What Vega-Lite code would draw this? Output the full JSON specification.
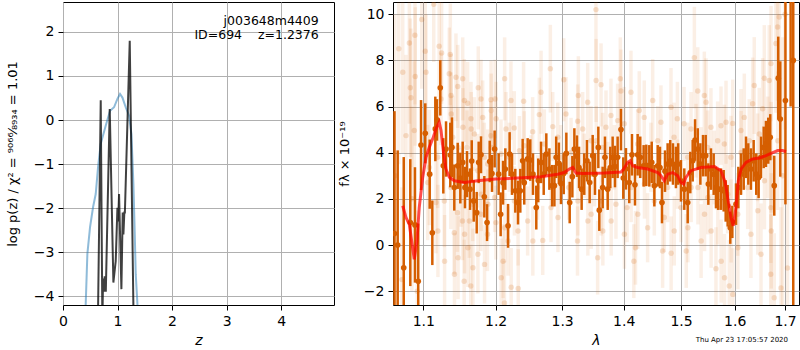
{
"$schema": "https://vega.github.io/schema/vega-lite/v6.json",
"padding": {"left": 5, "top": 1, "right": 0, "bottom": 0},
"bounds": "flush",
"spacing": 59,
"background": "white",
"config": {
 "font": "DejaVu Sans",
 "view": {"stroke": "black", "strokeWidth": 1},
 "axis": {"domain": false, "grid": true, "gridColor": "#b0b0b0", "gridWidth": 1, "tickColor": "black", "tickSize": 5, "tickWidth": 1, "labelFont": "DejaVu Sans", "labelFontSize": 14, "labelColor": "black", "labelPadding": 4, "labelFlush": false, "labelOverlap": false, "titleFont": "DejaVu Sans", "titleFontSize": 14, "titleFontWeight": "normal", "titleColor": "black"}
},
"datasets": {
 "blue": [{"z":0.405,"v":-4.6},{"z":0.417,"v":-4.16},{"z":0.447,"v":-3.04},{"z":0.496,"v":-2.43},{"z":0.551,"v":-1.98},{"z":0.6,"v":-1.68},{"z":0.643,"v":-1.07},{"z":0.692,"v":-0.54},{"z":0.783,"v":-0.13},{"z":0.863,"v":0.21},{"z":0.936,"v":0.29},{"z":0.998,"v":0.48},{"z":1.046,"v":0.59},{"z":1.09,"v":0.51},{"z":1.15,"v":0.29},{"z":1.211,"v":0.1},{"z":1.255,"v":-0.32},{"z":1.291,"v":-1.45},{"z":1.316,"v":-2.59},{"z":1.334,"v":-3.5},{"z":1.365,"v":-4.18},{"z":1.375,"v":-4.6}],
 "black": [{"z":0.64,"v":-4.6},{"z":0.692,"v":0.45},{"z":0.722,"v":-4.6},{"z":0.735,"v":-3.6},{"z":0.75,"v":-3.9},{"z":0.765,"v":-3.55},{"z":0.785,"v":-3.9},{"z":0.857,"v":0.25},{"z":0.924,"v":-3.69},{"z":0.945,"v":-3.45},{"z":0.967,"v":-3.2},{"z":0.998,"v":-1.99},{"z":1.012,"v":-2.3},{"z":1.028,"v":-1.68},{"z":1.071,"v":-3.84},{"z":1.095,"v":-2.1},{"z":1.108,"v":-2.6},{"z":1.125,"v":-2.1},{"z":1.135,"v":-2.1},{"z":1.224,"v":1.8},{"z":1.295,"v":-4.6}],
 "ann": [{"z":4.69,"v":2.25,"t":"j003648m4409"},{"z":4.69,"v":1.93,"t":"ID=694\u00a0\u00a0\u00a0\u00a0z=1.2376"}],
 "model": [{"l":1.0731,"f":1.7},{"l":1.0773,"f":1.19},{"l":1.0816,"f":0.9},{"l":1.0847,"f":0.17},{"l":1.0881,"f":-0.62},{"l":1.0916,"f":0.17},{"l":1.0946,"f":1.62},{"l":1.0992,"f":2.93},{"l":1.1036,"f":3.8},{"l":1.1079,"f":4.23},{"l":1.1125,"f":4.6},{"l":1.1169,"f":5.03},{"l":1.1213,"f":5.32},{"l":1.1237,"f":4.96},{"l":1.1273,"f":3.94},{"l":1.1304,"f":3.29},{"l":1.135,"f":2.93},{"l":1.1418,"f":2.78},{"l":1.1556,"f":2.71},{"l":1.1744,"f":2.78},{"l":1.2,"f":2.86},{"l":1.2323,"f":2.9},{"l":1.2674,"f":2.96},{"l":1.2931,"f":3.07},{"l":1.3034,"f":3.14},{"l":1.3113,"f":3.29},{"l":1.3167,"f":3.36},{"l":1.3219,"f":3.12},{"l":1.3326,"f":3.1},{"l":1.3677,"f":3.12},{"l":1.3954,"f":3.16},{"l":1.4,"f":3.29},{"l":1.4067,"f":3.58},{"l":1.4111,"f":3.65},{"l":1.4152,"f":3.43},{"l":1.4237,"f":3.36},{"l":1.441,"f":3.29},{"l":1.4585,"f":3.14},{"l":1.4642,"f":3.0},{"l":1.47,"f":2.78},{"l":1.476,"f":3.07},{"l":1.485,"f":3.14},{"l":1.494,"f":3.0},{"l":1.4999,"f":2.71},{"l":1.5047,"f":2.64},{"l":1.5088,"f":2.93},{"l":1.5181,"f":3.22},{"l":1.5364,"f":3.36},{"l":1.5613,"f":3.4},{"l":1.5739,"f":3.22},{"l":1.582,"f":2.71},{"l":1.5877,"f":1.91},{"l":1.5929,"f":1.19},{"l":1.5973,"f":0.83},{"l":1.6025,"f":1.62},{"l":1.607,"f":2.78},{"l":1.6122,"f":3.29},{"l":1.622,"f":3.58},{"l":1.635,"f":3.73},{"l":1.6481,"f":3.77},{"l":1.6614,"f":3.87},{"l":1.6715,"f":3.97},{"l":1.685,"f":4.09},{"l":1.6951,"f":4.09},{"l":1.7019,"f":4.04}],
 "dark": [{"l":1.0625,"f":0.5,"e":5.3},{"l":1.0666,"f":0.0,"e":4.1},{"l":1.0744,"f":-0.99,"e":4.8},{"l":1.0829,"f":0.97,"e":2.75},{"l":1.089,"f":0.87,"e":2.5},{"l":1.0933,"f":-1.57,"e":2.5},{"l":1.097,"f":4.33,"e":1.95},{"l":1.1026,"f":4.84,"e":1.3},{"l":1.1085,"f":3.07,"e":1.5},{"l":1.112,"f":0.53,"e":1.4},{"l":1.116,"f":5.03,"e":1.4},{"l":1.1183,"f":5.42,"e":0.9},{"l":1.1227,"f":6.81,"e":1.2},{"l":1.1268,"f":3.43,"e":1.2},{"l":1.1305,"f":4.16,"e":1.2},{"l":1.1363,"f":3.9,"e":1.4},{"l":1.1386,"f":4.23,"e":1.3},{"l":1.1418,"f":2.49,"e":1.0},{"l":1.1465,"f":3.43,"e":1.0},{"l":1.1501,"f":2.9,"e":1.1},{"l":1.1534,"f":3.58,"e":0.9},{"l":1.1566,"f":2.49,"e":0.9},{"l":1.1594,"f":3.07,"e":1.0},{"l":1.1636,"f":2.42,"e":0.9},{"l":1.166,"f":3.64,"e":0.9},{"l":1.1688,"f":1.91,"e":0.9},{"l":1.173,"f":1.4,"e":0.9},{"l":1.1758,"f":3.58,"e":0.9},{"l":1.1791,"f":3.91,"e":0.8},{"l":1.1838,"f":2.09,"e":0.9},{"l":1.1877,"f":0.97,"e":0.8},{"l":1.1915,"f":3.62,"e":0.9},{"l":1.1948,"f":3.1,"e":0.8},{"l":1.1986,"f":4.16,"e":0.8},
{"l":1.2044,"f":3.07,"e":0.9},{"l":1.2073,"f":1.33,"e":0.95},{"l":1.2108,"f":2.7,"e":0.95},{"l":1.2141,"f":3.29,"e":0.9},{"l":1.2181,"f":0.83,"e":0.95},{"l":1.2204,"f":3.94,"e":0.95},{"l":1.2239,"f":3.07,"e":0.9},{"l":1.2288,"f":2.35,"e":0.95},{"l":1.2328,"f":1.84,"e":0.95},{"l":1.2362,"f":2.35,"e":0.95},{"l":1.2397,"f":3.65,"e":0.95},{"l":1.2421,"f":2.7,"e":0.95},{"l":1.2472,"f":3.73,"e":0.9},{"l":1.2511,"f":3.68,"e":0.9},{"l":1.2552,"f":3.07,"e":0.9},{"l":1.2602,"f":1.62,"e":0.95},{"l":1.2632,"f":2.8,"e":0.95},{"l":1.2674,"f":3.58,"e":0.9},{"l":1.2715,"f":3.07,"e":0.9},{"l":1.2755,"f":3.94,"e":0.9},{"l":1.2802,"f":3.29,"e":0.9},{"l":1.2844,"f":2.57,"e":0.9},{"l":1.288,"f":2.57,"e":0.9},{"l":1.2907,"f":3.8,"e":0.9},{"l":1.2949,"f":3.54,"e":0.9},{"l":1.2982,"f":2.67,"e":0.9},{"l":1.3025,"f":3.1,"e":0.9},{"l":1.3066,"f":3.97,"e":0.9},{"l":1.3119,"f":1.84,"e":0.9},{"l":1.3161,"f":2.96,"e":0.9},{"l":1.3193,"f":4.16,"e":0.9},{"l":1.3235,"f":3.85,"e":0.9},{"l":1.3267,"f":3.36,"e":0.9},{"l":1.3309,"f":2.42,"e":0.9},{"l":1.3351,"f":3.07,"e":0.9},{"l":1.3395,"f":3.65,"e":0.9},{"l":1.3438,"f":2.71,"e":0.9},{"l":1.3487,"f":3.87,"e":0.9},{"l":1.3524,"f":3.07,"e":0.9},{"l":1.3579,"f":4.23,"e":0.9},{"l":1.3595,"f":1.51,"e":0.9},{"l":1.365,"f":2.49,"e":0.9},{"l":1.3688,"f":3.8,"e":0.9},{"l":1.3733,"f":2.42,"e":0.9},{"l":1.3776,"f":3.36,"e":0.9},{"l":1.3815,"f":3.8,"e":0.9},{"l":1.3854,"f":3.4,"e":0.9},{"l":1.3898,"f":3.8,"e":0.9},{"l":1.3954,"f":5.0,"e":0.9},{"l":1.3993,"f":2.9,"e":0.9},{"l":1.4038,"f":3.3,"e":0.9},{"l":1.4094,"f":2.71,"e":0.9},{"l":1.414,"f":3.91,"e":0.9},{"l":1.4191,"f":2.61,"e":0.9},{"l":1.4237,"f":3.91,"e":0.9},{"l":1.4282,"f":3.8,"e":0.9},{"l":1.434,"f":3.43,"e":0.9},{"l":1.4386,"f":3.45,"e":0.9},{"l":1.4438,"f":3.43,"e":0.9},{"l":1.448,"f":3.58,"e":0.9},{"l":1.4526,"f":2.57,"e":0.9},{"l":1.4585,"f":3.43,"e":0.9},{"l":1.4625,"f":3.36,"e":0.9},{"l":1.466,"f":1.84,"e":0.9},{"l":1.4713,"f":3.2,"e":0.9},{"l":1.476,"f":3.51,"e":0.9},{"l":1.4806,"f":3.65,"e":0.9},{"l":1.4855,"f":3.51,"e":0.9},{"l":1.4908,"f":3.36,"e":0.9},{"l":1.4949,"f":3.51,"e":0.9},{"l":1.4999,"f":2.78,"e":0.9},{"l":1.5059,"f":2.42,"e":0.9},{"l":1.5121,"f":1.84,"e":0.9},{"l":1.5168,"f":3.14,"e":0.9},{"l":1.5212,"f":3.65,"e":0.9},{"l":1.5255,"f":4.55,"e":0.9},{"l":1.5305,"f":4.16,"e":0.9},{"l":1.5353,"f":3.51,"e":0.9},{"l":1.5402,"f":3.87,"e":0.9},{"l":1.5452,"f":3.87,"e":0.9},{"l":1.5501,"f":2.64,"e":0.9},{"l":1.555,"f":3.29,"e":0.9},{"l":1.5601,"f":3.07,"e":0.9},{"l":1.5644,"f":2.49,"e":0.9},{"l":1.5687,"f":2.42,"e":0.9},{"l":1.5739,"f":2.42,"e":0.9},{"l":1.579,"f":2.35,"e":0.9},{"l":1.5828,"f":1.91,"e":0.9},{"l":1.5866,"f":1.7,"e":0.9},{"l":1.5916,"f":0.75,"e":0.7},{"l":1.5955,"f":1.0,"e":0.7},{"l":1.6026,"f":1.77,"e":0.9},{"l":1.6071,"f":2.49,"e":0.9},{"l":1.6122,"f":3.07,"e":0.9},{"l":1.6175,"f":3.29,"e":0.9},{"l":1.622,"f":3.8,"e":0.9},{"l":1.6265,"f":3.51,"e":0.9},{"l":1.6317,"f":3.29,"e":0.9},{"l":1.637,"f":3.65,"e":0.9},{"l":1.6421,"f":3.07,"e":0.9},{"l":1.6468,"f":2.93,"e":0.9},{"l":1.6515,"f":3.8,"e":0.9},{"l":1.6569,"f":4.23,"e":0.9},{"l":1.6614,"f":4.38,"e":1.0},{"l":1.666,"f":4.52,"e":1.0},{"l":1.67,"f":4.67,"e":1.0},{"l":1.6781,"f":2.57,"e":1.3},{"l":1.6862,"f":7.23,"e":1.8},{"l":1.6903,"f":5.46,"e":2.5},{"l":1.7008,"f":6.26,"e":4.5},{"l":1.7115,"f":11.5,"e":5.5},{"l":1.7169,"f":8.0,"e":12}],
 "faint": [{"l":1.063,"f":3.0,"e":7},{"l":1.068,"f":8.5,"e":5},{"l":1.072,"f":-1.5,"e":4},{"l":1.0731,"f":7.49,"e":3.5},{"l":1.0773,"f":4.74,"e":3.5},{"l":1.0817,"f":8.75,"e":3.5},{"l":1.0829,"f":6.81,"e":3},{"l":1.0838,"f":6.38,"e":3},{"l":1.085,"f":2.0,"e":4},{"l":1.0882,"f":4.96,"e":3},{"l":1.089,"f":9.09,"e":3},{"l":1.0894,"f":7.3,"e":3},{"l":1.092,"f":-2.0,"e":3.5},{"l":1.0979,"f":9.77,"e":3},{"l":1.1026,"f":8.4,"e":2.5},{"l":1.1036,"f":7.49,"e":2.5},{"l":1.1058,"f":2.71,"e":2.5},{"l":1.108,"f":3.36,"e":2.5},{"l":1.1139,"f":10.43,"e":2.5},{"l":1.1168,"f":1.84,"e":2.2},{"l":1.1192,"f":3.8,"e":2.2},{"l":1.1195,"f":0.61,"e":2},{"l":1.1212,"f":8.61,"e":2.2},{"l":1.1237,"f":6.33,"e":2},{"l":1.1245,"f":8.32,"e":2.2},{"l":1.1282,"f":1.91,"e":2},{"l":1.1285,"f":-0.7,"e":2},{"l":1.1349,"f":7.42,"e":2},{"l":1.1363,"f":8.26,"e":2.2},{"l":1.1373,"f":6.48,"e":1.8},{"l":1.1376,"f":5.68,"e":1.8},{"l":1.137,"f":2.49,"e":1.8},{"l":1.1396,"f":4.67,"e":1.8},{"l":1.1418,"f":0.53,"e":1.8},{"l":1.142,"f":-1.27,"e":1.8},{"l":1.1441,"f":7.27,"e":1.9},{"l":1.1465,"f":6.87,"e":1.8},{"l":1.1468,"f":4.23,"e":1.7},{"l":1.1462,"f":1.4,"e":1.7},{"l":1.147,"f":-0.55,"e":1.8},{"l":1.151,"f":2.49,"e":1.7},{"l":1.1534,"f":7.2,"e":1.8},{"l":1.1537,"f":5.1,"e":1.7},{"l":1.1531,"f":1.04,"e":1.7},{"l":1.1557,"f":6.26,"e":1.8},{"l":1.156,"f":0.47,"e":1.7},{"l":1.1554,"f":-1.57,"e":1.8},{"l":1.1594,"f":4.23,"e":1.6},{"l":1.1603,"f":6.14,"e":1.8},{"l":1.1606,"f":-0.12,"e":1.7},{"l":1.1627,"f":1.04,"e":1.6},{"l":1.165,"f":5.47,"e":1.6},{"l":1.1653,"f":5.03,"e":1.6},{"l":1.1647,"f":-1.78,"e":1.8},{"l":1.1674,"f":1.77,"e":1.6},{"l":1.1677,"f":-0.99,"e":1.7},{"l":1.1697,"f":4.81,"e":1.6},{"l":1.1744,"f":3.22,"e":1.6},{"l":1.1747,"f":-0.4,"e":1.7},{"l":1.1752,"f":6.81,"e":1.8},{"l":1.1791,"f":6.33,"e":1.7},{"l":1.1794,"f":2.2,"e":1.6},{"l":1.1788,"f":1.33,"e":1.6},{"l":1.1815,"f":5.53,"e":1.6},{"l":1.1838,"f":3.8,"e":1.5},{"l":1.1841,"f":-0.84,"e":1.7},{"l":1.1886,"f":3.51,"e":1.5},{"l":1.1889,"f":1.77,"e":1.5},{"l":1.1883,"f":0.47,"e":1.6},{"l":1.1934,"f":6.29,"e":1.7},{"l":1.1937,"f":5.83,"e":1.6},{"l":1.1931,"f":4.74,"e":1.5},{"l":1.194,"f":4.23,"e":1.5},
{"l":1.1986,"f":2.06,"e":1.5},{"l":1.1992,"f":6.33,"e":1.7},{"l":1.2007,"f":5.47,"e":1.6},{"l":1.2004,"f":0.97,"e":1.6},{"l":1.2078,"f":3.94,"e":1.5},{"l":1.2081,"f":-1.42,"e":1.7},{"l":1.2108,"f":-0.7,"e":1.6},{"l":1.2131,"f":7.2,"e":1.8},{"l":1.2134,"f":0.75,"e":1.5},{"l":1.2128,"f":-2.51,"e":1.8},{"l":1.2151,"f":5.03,"e":1.6},{"l":1.2181,"f":0.17,"e":1.5},{"l":1.22,"f":3.8,"e":1.5},{"l":1.2224,"f":6.26,"e":1.7},{"l":1.2227,"f":-1.83,"e":1.7},{"l":1.2272,"f":5.07,"e":1.6},{"l":1.2275,"f":1.91,"e":1.5},{"l":1.2328,"f":0.61,"e":1.5},{"l":1.2331,"f":-1.88,"e":1.7},{"l":1.2349,"f":4.09,"e":1.5},{"l":1.2411,"f":6.23,"e":1.7},{"l":1.2421,"f":4.3,"e":1.5},{"l":1.2472,"f":1.04,"e":1.5},{"l":1.2522,"f":3.36,"e":1.4},{"l":1.2547,"f":4.91,"e":1.5},{"l":1.255,"f":0.17,"e":1.5},{"l":1.2623,"f":2.49,"e":1.4},{"l":1.2648,"f":5.65,"e":1.6},{"l":1.2674,"f":6.62,"e":1.8},{"l":1.27,"f":0.2,"e":1.5},{"l":1.2724,"f":4.38,"e":1.5},{"l":1.2817,"f":7.64,"e":1.9},{"l":1.2827,"f":1.62,"e":1.5},{"l":1.2854,"f":5.13,"e":1.5},{"l":1.2932,"f":4.67,"e":1.5},{"l":1.2935,"f":1.19,"e":1.5},{"l":1.2982,"f":3.8,"e":1.4},{"l":1.3025,"f":7.16,"e":1.8},{"l":1.3061,"f":5.68,"e":1.6},{"l":1.3103,"f":2.49,"e":1.4},{"l":1.314,"f":4.01,"e":1.5},{"l":1.3246,"f":5.36,"e":1.6},{"l":1.3249,"f":1.91,"e":1.5},{"l":1.3243,"f":0.17,"e":1.5},{"l":1.3256,"f":6.48,"e":1.7},{"l":1.3326,"f":5.03,"e":1.6},{"l":1.3351,"f":3.43,"e":1.4},{"l":1.3406,"f":6.19,"e":1.7},{"l":1.3409,"f":1.04,"e":1.5},{"l":1.346,"f":4.52,"e":1.5},{"l":1.3463,"f":1.33,"e":1.5},
{"l":1.3516,"f":3.07,"e":1.4},{"l":1.354,"f":10.2,"e":2.2},{"l":1.3543,"f":7.13,"e":1.8},{"l":1.3546,"f":4.52,"e":1.5},{"l":1.3568,"f":-0.55,"e":1.6},{"l":1.3623,"f":6.94,"e":1.8},{"l":1.3626,"f":1.91,"e":1.5},{"l":1.365,"f":4.23,"e":1.5},{"l":1.3653,"f":0.61,"e":1.5},{"l":1.3705,"f":5.1,"e":1.6},{"l":1.3733,"f":3.07,"e":1.4},{"l":1.3787,"f":5.61,"e":1.6},{"l":1.379,"f":1.04,"e":1.5},{"l":1.3843,"f":3.8,"e":1.4},{"l":1.387,"f":1.77,"e":1.5},{"l":1.3898,"f":5.39,"e":1.6},{"l":1.3943,"f":7.2,"e":1.8},{"l":1.3954,"f":6.67,"e":1.8},{"l":1.4009,"f":5.25,"e":1.6},{"l":1.4012,"f":0.47,"e":1.5},{"l":1.4057,"f":1.62,"e":1.5},{"l":1.4123,"f":6.62,"e":1.8},{"l":1.4126,"f":2.49,"e":1.5},{"l":1.4172,"f":-0.7,"e":1.6},{"l":1.42,"f":-0.12,"e":1.6},{"l":1.4237,"f":4.38,"e":1.5},{"l":1.424,"f":1.33,"e":1.5},{"l":1.4265,"f":5.83,"e":1.7},{"l":1.4351,"f":5.53,"e":1.6},{"l":1.4354,"f":2.64,"e":1.5},{"l":1.4409,"f":0.75,"e":1.5},{"l":1.4467,"f":3.8,"e":1.5},{"l":1.4497,"f":6.26,"e":1.8},{"l":1.4526,"f":1.91,"e":1.5},{"l":1.4585,"f":4.52,"e":1.5},{"l":1.4642,"f":5.32,"e":1.6},{"l":1.4671,"f":-0.26,"e":1.6},{"l":1.4701,"f":1.19,"e":1.5},{"l":1.476,"f":2.49,"e":1.5},{"l":1.482,"f":5.97,"e":1.7},{"l":1.4823,"f":-0.36,"e":1.6},{"l":1.4875,"f":4.67,"e":1.5},{"l":1.4878,"f":0.61,"e":1.5},{"l":1.4934,"f":5.47,"e":1.6},{"l":1.4937,"f":3.07,"e":1.5},{"l":1.4999,"f":1.62,"e":1.5},{"l":1.5054,"f":5.25,"e":1.6},{"l":1.5094,"f":-0.26,"e":1.6},{"l":1.5121,"f":3.8,"e":1.5},{"l":1.5124,"f":0.75,"e":1.5},{"l":1.5181,"f":5.03,"e":1.6},{"l":1.5184,"f":2.49,"e":1.5},
{"l":1.5242,"f":8.12,"e":2.2},{"l":1.5273,"f":4.52,"e":1.6},{"l":1.5305,"f":6.67,"e":1.9},{"l":1.5308,"f":2.49,"e":1.6},{"l":1.5364,"f":3.51,"e":1.6},{"l":1.5367,"f":0.17,"e":1.6},{"l":1.5427,"f":6.48,"e":1.9},{"l":1.543,"f":1.33,"e":1.6},{"l":1.5458,"f":6.19,"e":1.9},{"l":1.5489,"f":4.23,"e":1.6},{"l":1.5492,"f":2.06,"e":1.6},{"l":1.555,"f":5.1,"e":1.7},{"l":1.5553,"f":0.61,"e":1.6},{"l":1.5612,"f":3.36,"e":1.6},{"l":1.5644,"f":-1.03,"e":1.8},{"l":1.5676,"f":4.52,"e":1.7},{"l":1.5679,"f":1.62,"e":1.6},{"l":1.5739,"f":5.17,"e":1.7},{"l":1.5742,"f":-0.7,"e":1.8},{"l":1.5803,"f":4.38,"e":1.7},{"l":1.5806,"f":-1.42,"e":1.9},{"l":1.5835,"f":5.32,"e":1.8},{"l":1.5866,"f":2.2,"e":1.7},{"l":1.5897,"f":-1.78,"e":2},{"l":1.5929,"f":3.8,"e":1.8},{"l":1.5932,"f":1.04,"e":1.8},{"l":1.5962,"f":5.27,"e":1.9},{"l":1.5965,"f":-2.14,"e":2},{"l":1.6059,"f":1.33,"e":1.8},{"l":1.6062,"f":-0.12,"e":1.8},{"l":1.6122,"f":4.96,"e":1.8},{"l":1.6125,"f":4.01,"e":1.8},{"l":1.6187,"f":5.53,"e":1.9},{"l":1.6252,"f":2.49,"e":1.8},{"l":1.6284,"f":4.52,"e":1.8},{"l":1.6317,"f":0.47,"e":1.9},{"l":1.635,"f":6.12,"e":2},{"l":1.6382,"f":6.91,"e":2.1},{"l":1.6449,"f":3.8,"e":1.9},{"l":1.6452,"f":1.48,"e":1.9},{"l":1.6481,"f":4.81,"e":2},{"l":1.6515,"f":-0.4,"e":2.2},{"l":1.6548,"f":5.9,"e":2.2},{"l":1.6581,"f":7.23,"e":2.3},{"l":1.6584,"f":2.78,"e":2.1},{"l":1.6648,"f":4.23,"e":2.2},{"l":1.668,"f":7.13,"e":2.4},{"l":1.6715,"f":7.86,"e":2.5},{"l":1.6718,"f":3.8,"e":2.4},{"l":1.6712,"f":1.62,"e":2.4},{"l":1.672,"f":0.61,"e":2.5},{"l":1.671,"f":-1.27,"e":2.6},{"l":1.6781,"f":-2.29,"e":2.8},{"l":1.6814,"f":8.73,"e":3},{"l":1.6848,"f":9.45,"e":3.2},{"l":1.6851,"f":4.52,"e":3},{"l":1.6882,"f":9.88,"e":3.5},{"l":1.6917,"f":-1.86,"e":3.5},{"l":1.695,"f":3.0,"e":6},{"l":1.7,"f":10.0,"e":5},{"l":1.705,"f":-1.0,"e":5}]
},
"hconcat": [
 {
  "width": 271, "height": 303,
  "layer": [
   {"data": {"name": "blue"}, "mark": {"type": "line", "color": "#1f77b4", "opacity": 0.5, "strokeWidth": 2, "clip": true},
    "encoding": {
     "x": {"field": "z", "type": "quantitative", "title": "z", "scale": {"domain": [0, 4.97], "nice": false, "zero": false}, "axis": {"values": [0,1,2,3,4], "format": "d", "titleFontStyle": "italic", "titlePadding": 5}},
     "y": {"field": "v", "type": "quantitative", "title": "log p(z) / χ² = ⁹⁰⁶⁶⁄₈₉₃₄ = 1.01", "scale": {"domain": [-4.2, 2.68], "nice": false, "zero": false}, "axis": {"values": [-4,-3,-2,-1,0,1,2], "format": "d", "titleFontSize": 13, "titlePadding": 14}}
    }},
   {"data": {"name": "black"}, "mark": {"type": "line", "color": "black", "opacity": 0.75, "strokeWidth": 2, "clip": true},
    "encoding": {"x": {"field": "z", "type": "quantitative", "title": "z"}, "y": {"field": "v", "type": "quantitative", "title": "log p(z) / χ² = ⁹⁰⁶⁶⁄₈₉₃₄ = 1.01"}}},
   {"data": {"name": "ann"}, "mark": {"type": "text", "align": "right", "baseline": "middle", "fontSize": 12.5, "font": "DejaVu Sans", "color": "black"},
    "encoding": {"x": {"field": "z", "type": "quantitative", "title": "z"}, "y": {"field": "v", "type": "quantitative", "title": "log p(z) / χ² = ⁹⁰⁶⁶⁄₈₉₃₄ = 1.01"}, "text": {"field": "t"}}}
  ]
 },
 {
  "width": 406, "height": 303,
  "title": {"text": "Thu Apr 23 17:05:57 2020", "orient": "bottom", "anchor": "end", "frame": "group", "fontSize": 7, "fontWeight": "normal", "font": "DejaVu Sans", "color": "black", "offset": -11, "dx": -11},
  "layer": [
   {"data": {"name": "faint"}, "mark": {"type": "errorbar", "color": "#d55e00", "opacity": 0.1, "thickness": 3.5, "clip": true},
    "encoding": {
     "x": {"field": "l", "type": "quantitative", "title": "λ", "scale": {"type": "log", "domain": [1.0606, 1.7288], "nice": false, "zero": false}, "axis": {"values": [1.1,1.2,1.3,1.4,1.5,1.6,1.7], "format": ".1f", "titleFontStyle": "italic", "titlePadding": 5}},
     "y": {"field": "f", "type": "quantitative", "title": "fλ × 10⁻¹⁹", "scale": {"domain": [-2.6, 10.53], "nice": false, "zero": false}, "axis": {"values": [-2,0,2,4,6,8,10], "format": "d", "titleFontSize": 13, "titlePadding": 12}},
     "yError": {"field": "e"}
    }},
   {"data": {"name": "faint"}, "mark": {"type": "circle", "color": "#d55e00", "opacity": 0.18, "size": 30, "clip": true},
    "encoding": {"x": {"field": "l", "type": "quantitative", "title": "λ"}, "y": {"field": "f", "type": "quantitative", "title": "fλ × 10⁻¹⁹"}}},
   {"data": {"name": "dark"}, "mark": {"type": "errorbar", "color": "#d55e00", "opacity": 1, "thickness": 2.5, "clip": true},
    "encoding": {"x": {"field": "l", "type": "quantitative", "title": "λ"}, "y": {"field": "f", "type": "quantitative", "title": "fλ × 10⁻¹⁹"}, "yError": {"field": "e"}}},
   {"data": {"name": "dark"}, "mark": {"type": "circle", "color": "#d55e00", "opacity": 1, "size": 32, "clip": true},
    "encoding": {"x": {"field": "l", "type": "quantitative", "title": "λ"}, "y": {"field": "f", "type": "quantitative", "title": "fλ × 10⁻¹⁹"}}},
   {"mark": {"type": "rule", "color": "black", "strokeWidth": 2, "strokeDash": [1.6, 2.7]},
    "encoding": {"y": {"datum": 0, "title": "fλ × 10⁻¹⁹"}}},
   {"data": {"name": "model"}, "mark": {"type": "line", "color": "red", "opacity": 0.7, "strokeWidth": 3, "clip": true},
    "encoding": {"x": {"field": "l", "type": "quantitative", "title": "λ"}, "y": {"field": "f", "type": "quantitative", "title": "fλ × 10⁻¹⁹"}}}
  ]
 }
]
}
